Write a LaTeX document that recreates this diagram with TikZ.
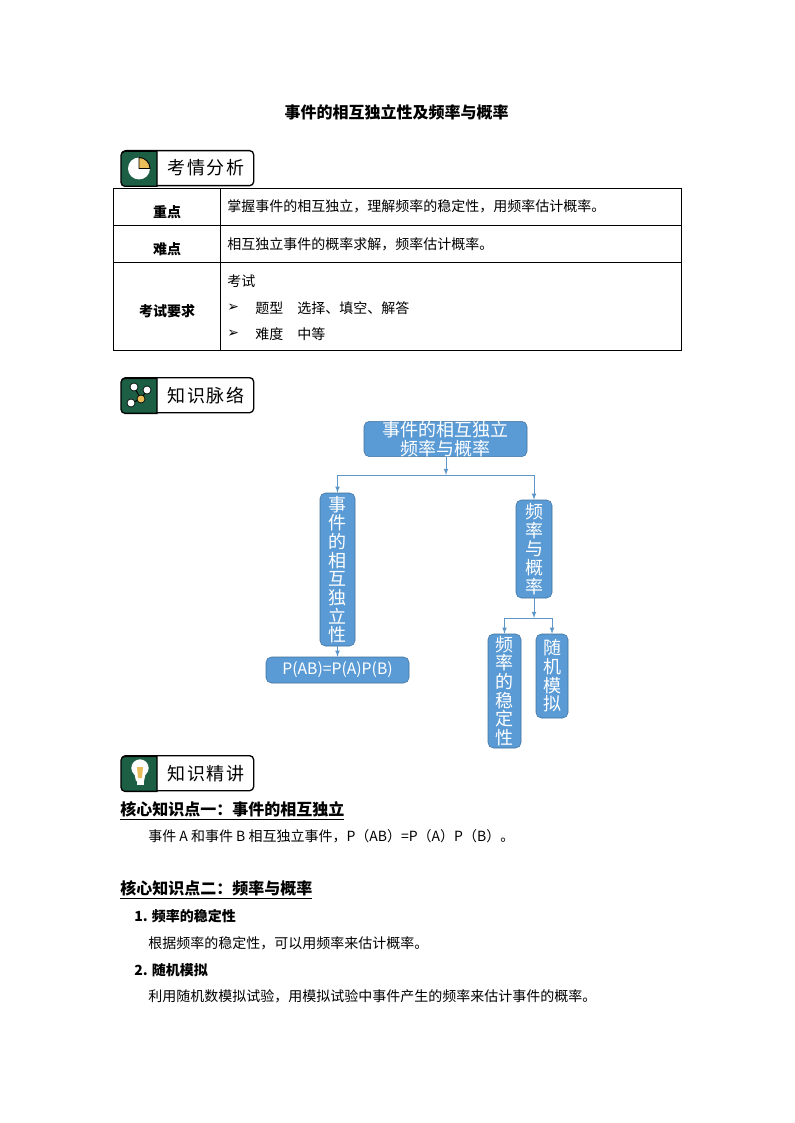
\documentclass[tikz,border=0pt]{standalone}
\usepackage{fontspec}
\setmainfont{Noto Sans CJK SC}
\newfontfamily\tabfont[LetterSpace=10]{Noto Sans CJK SC}
\newfontfamily\symfont{DejaVu Sans}
\usetikzlibrary{arrows,shapes}
\definecolor{tabgreen}{HTML}{1D5F45}
\definecolor{tabgold}{HTML}{E9BE5A}
\definecolor{boxblue}{HTML}{5B9BD5}
\definecolor{boxline}{HTML}{41719C}
\definecolor{arrblue}{HTML}{5F96C8}
\tikzstyle{box}=[rectangle,rounded corners=4pt,draw=boxline,fill=boxblue,text=white,align=center,inner sep=0pt,font=\fontsize{13.5}{14}\selectfont]
\tikzstyle{tabbox}=[rectangle,rounded corners=3pt,draw=black,line width=1pt,fill=white,anchor=north west,minimum width=99pt,minimum height=26.25pt,inner sep=0pt]
\tikzstyle{tabtext}=[anchor=west,inner sep=0pt,font=\tabfont\fontsize{13.5}{14}\selectfont]
\tikzstyle{body}=[anchor=west,inner sep=0pt,font=\fontsize{10.5}{12}\selectfont]
\tikzstyle{cell}=[inner sep=0pt,font=\bfseries\fontsize{10.5}{12}\selectfont]
\tikzstyle{head}=[anchor=west,inner sep=0pt,font=\bfseries\fontsize{12}{14}\selectfont]
\tikzstyle{arr}=[draw=arrblue,line width=.6pt,-latex]
\tikzstyle{stem}=[draw=arrblue,line width=.6pt]
\begin{document}
\begin{tikzpicture}[x=.75pt,y=-.75pt]
    \useasboundingbox (0,0) rectangle (794,1123);
    \node[inner sep=0pt,font=\bfseries\fontsize{12}{14}\selectfont] (title) at (396.5,112) {事件的相互独立性及频率与概率};
    % tabs
    \foreach \pos/\name/\val in {{(121,150)/tabq/考情分析}, {(121,377)/tabk/知识脉络}, {(121,755)/tabj/知识精讲}}{
        \node[tabbox] (\name) at \pos {};
        \draw[draw=black,line width=1pt,fill=tabgreen] (\name.south west) ++(36,0) -- ++(0,-35) -- ++(-32,0)
            to[out=180,in=90] ++(-4,4) -- ++(0,27) to[out=-90,in=180] ++(4,4) -- cycle;
        \node[tabtext] (\name t) at ([xshift=34.5pt]\name.west) {\val};
    }
    % pie icon
    \fill[white] (139,168.5) circle (8.25pt);
    \draw[black,fill=tabgold,line width=.7pt] (139,168.5) -- (139,157.5) arc (90:0:8.25pt) -- cycle;
    % dots icon
    \draw[black,line width=.7pt] (134,387) -- (141,399) -- (147,390) (141,399) -- (131,403);
    \foreach \pos/\col in {(134,387)/white, (147,390)/white, (131,403)/white, (141,399)/tabgold}
        \draw[black,fill=\col,line width=.5pt] \pos circle (3pt);
    % bulb icon
    \fill[white] (140,768) circle (6.5pt);
    \fill[white] (134,772) -- (146,772) -- (144,781) -- (136,781) -- cycle;
    \fill[tabgold] (137,767) -- (143,767) -- (142,778) -- (138,778) -- cycle;
    \fill[white] (136.5,781) rectangle (143.5,785);
    % table
    \draw[line width=.7pt] (113,188) rectangle (681,350);
    \draw[line width=.7pt] (113,225) -- (681,225) (113,262) -- (681,262) (220,188) -- (220,350);
    \foreach \pos/\name/\val in {{(167,212)/ca/重点}, {(167,249)/cb/难点}, {(167,311)/cc/考试要求}}
        \node[cell] (\name) at \pos {\val};
    \foreach \pos/\name/\val in {{(227,206)/ra/掌握事件的相互独立，理解频率的稳定性，用频率估计概率。},
    {(227,244.5)/rb/相互独立事件的概率求解，频率估计概率。}, {(227,281)/rc/考试},
    {(255,308)/rd/题型\hspace{10.5pt}选择、填空、解答}, {(255,334)/re/难度\hspace{10.5pt}中等}}
        \node[body] (\name) at \pos {\val};
    \foreach \pos/\name in {(227,308)/ma, (227,334)/mb}
        \node[body] (\name) at \pos {\symfont\fontsize{10.5}{12}\selectfont ➢};
    % tree
    \foreach \pos/\name/\w/\h/\val in {{(445.5,439)/top/163/34/事件的相互独立\\频率与概率},
    {(337.5,569.5)/left/35/153/事\\件\\的\\相\\互\\独\\立\\性},
    {(534,549)/right/36/98/频\\率\\与\\概\\率},
    {(504.5,691)/rl/33/114/频\\率\\的\\稳\\定\\性},
    {(552,676)/rr/32/84/随\\机\\模\\拟}}
        \node[box,minimum width=\w*.75pt,minimum height=\h*.75pt] (\name) at \pos {\val};
    \node[box,minimum width=107.25pt,minimum height=19.5pt,font=\fontsize{11.8}{12}\selectfont] (pab) at (337.5,670) {P(AB)=P(A)P(B)};
    \coordinate (ja) at (446,475);
    \coordinate (jb) at (534,618);
    \path[arr] (top.south -| ja) -- (ja);
    \path[stem] (left.north |- ja) -- (right.north |- ja);
    \path[arr] (left.north |- ja) -- (left.north);
    \path[arr] (right.north |- ja) -- (right.north);
    \path[arr] (right.south) -- (jb);
    \path[stem] (rl.north |- jb) -- (rr.north |- jb);
    \path[arr] (rl.north |- jb) -- (rl.north);
    \path[arr] (rr.north |- jb) -- (rr.north);
    \path[arr] (left.south) -- (pab.north);
    % text
    \node[head] (ha) at (120,810.5) {\underline{核心知识点一：事件的相互独立}};
    \node[head] (hb) at (120,889.5) {\underline{核心知识点二：频率与概率}};
    \foreach \pos/\name/\val in {{(148,836)/ta/事件 A 和事件 B 相互独立事件，P（AB）=P（A）P（B）。},
    {(148,943)/tb/根据频率的稳定性，可以用频率来估计概率。},
    {(148,996)/tc/利用随机数模拟试验，用模拟试验中事件产生的频率来估计事件的概率。}}
        \node[body] (\name) at \pos {\val};
    \foreach \pos/\name/\val in {{(134,916)/sa/1. 频率的稳定性}, {(134,970)/sb/2. 随机模拟}}
        \node[body,font=\bfseries\fontsize{10.5}{12}\selectfont] (\name) at \pos {\val};
\end{tikzpicture}
\end{document}
